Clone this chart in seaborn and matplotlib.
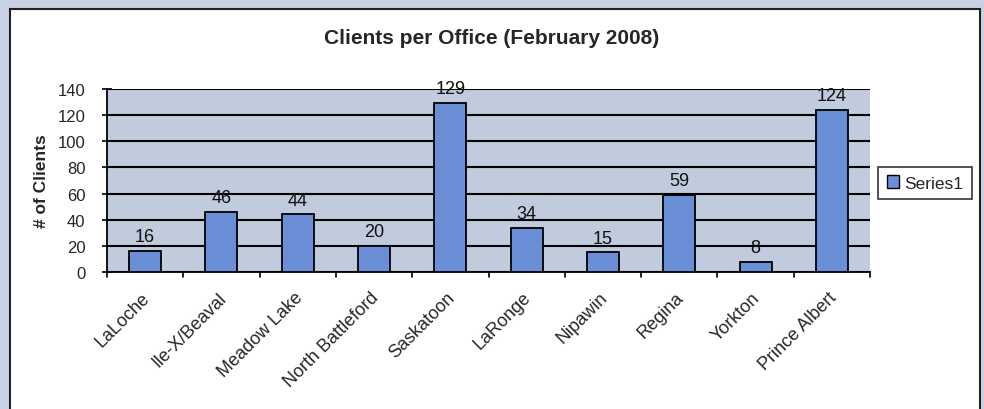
import matplotlib
matplotlib.use("Agg")
import matplotlib.pyplot as plt
import matplotlib.transforms as mtrans
import seaborn as sns
import pandas as pd
from matplotlib.patches import Rectangle

offices = ["LaLoche", "Ile-X/Beaval", "Meadow Lake", "North Battleford", "Saskatoon",
           "LaRonge", "Nipawin", "Regina", "Yorkton", "Prince Albert"]
clients = [16, 46, 44, 20, 129, 34, 15, 59, 8, 124]
y_ticks = [0, 20, 40, 60, 80, 100, 120, 140]
title = "Clients per Office (February 2008)"
y_label = "# of Clients"
series_name = "Series1"

df = pd.DataFrame({"Office": offices, "Clients": clients})

sns.set_theme(style="white")
plt.rcParams["font.family"] = ["Liberation Sans", "DejaVu Sans"]

W, H = 984, 410
fig = plt.figure(figsize=(W / 100, H / 100), dpi=100)
fig.patch.set_facecolor("#c8d2e2")

# white chart area with black border
fig.patches.append(Rectangle((10 / W, -0.05), 970 / W, (H - 10) / H + 0.05,
                             transform=fig.transFigure, facecolor="white",
                             edgecolor="#222222", linewidth=1.5, zorder=-5))

ax = fig.add_axes([107 / W, 1 - 273 / H, (870 - 107) / W, (273 - 90) / H])
ax.set_zorder(2)
ax.set_facecolor("#c0cbdd")

bar_color = "#6b8fd6"
sns.barplot(data=df, x="Office", y="Clients", ax=ax, color=bar_color,
            width=0.42, edgecolor="black", linewidth=1.3, saturation=1, zorder=3)

ax.set_ylim(0, 140)
ax.set_xlim(-0.5, len(offices) - 0.5)
ax.set_yticks(y_ticks)
ax.set_yticklabels([str(t) for t in y_ticks], fontsize=12)
ax.yaxis.grid(True, color="black", linewidth=1.5, zorder=1)
ax.set_axisbelow(True)

# category labels, ticks between categories
ax.set_xticks(range(len(offices)))
ax.set_xticklabels(offices, rotation=45, ha="right", rotation_mode="anchor", fontsize=13)
ax.tick_params(axis="x", length=0, pad=12)
shift = mtrans.ScaledTranslation(-4 / 100, 0, fig.dpi_scale_trans)
for lbl in ax.get_xticklabels():
    lbl.set_transform(lbl.get_transform() + shift)
for b in range(len(offices) + 1):
    ax.plot([b - 0.5, b - 0.5], [0, -3.5], color="black", lw=1.2, clip_on=False, zorder=4)
ax.tick_params(axis="y", length=7, width=1.2, color="black", direction="inout", left=True, pad=12)

for s in ["top", "right"]:
    ax.spines[s].set_visible(False)
ax.spines["left"].set_color("black")
ax.spines["left"].set_linewidth(1.3)
ax.spines["bottom"].set_color("black")
ax.spines["bottom"].set_linewidth(1.3)

for i, v in enumerate(clients):
    ax.text(i, v + 4.5, str(v), ha="center", va="bottom", fontsize=13, color="#111111", zorder=5)

ax.set_xlabel("")
ax.set_ylabel(y_label, fontsize=12.5, fontweight="bold", labelpad=6)

fig.text(0.5, 1 - 38 / H, title, ha="center", va="center", fontsize=15, fontweight="bold")

handle = Rectangle((0, 0), 1, 1, facecolor=bar_color, edgecolor="black", linewidth=1)
leg = fig.legend([handle], [series_name], loc="center left",
                 bbox_to_anchor=(878 / W, 1 - 184 / H), fontsize=12.5, frameon=True,
                 fancybox=False, handlelength=0.7, handleheight=0.7, handletextpad=0.3,
                 borderpad=0.5, borderaxespad=0)
leg.get_frame().set_edgecolor("black")
leg.get_frame().set_linewidth(1.2)

fig.savefig("out.png", dpi=100, facecolor=fig.get_facecolor())
